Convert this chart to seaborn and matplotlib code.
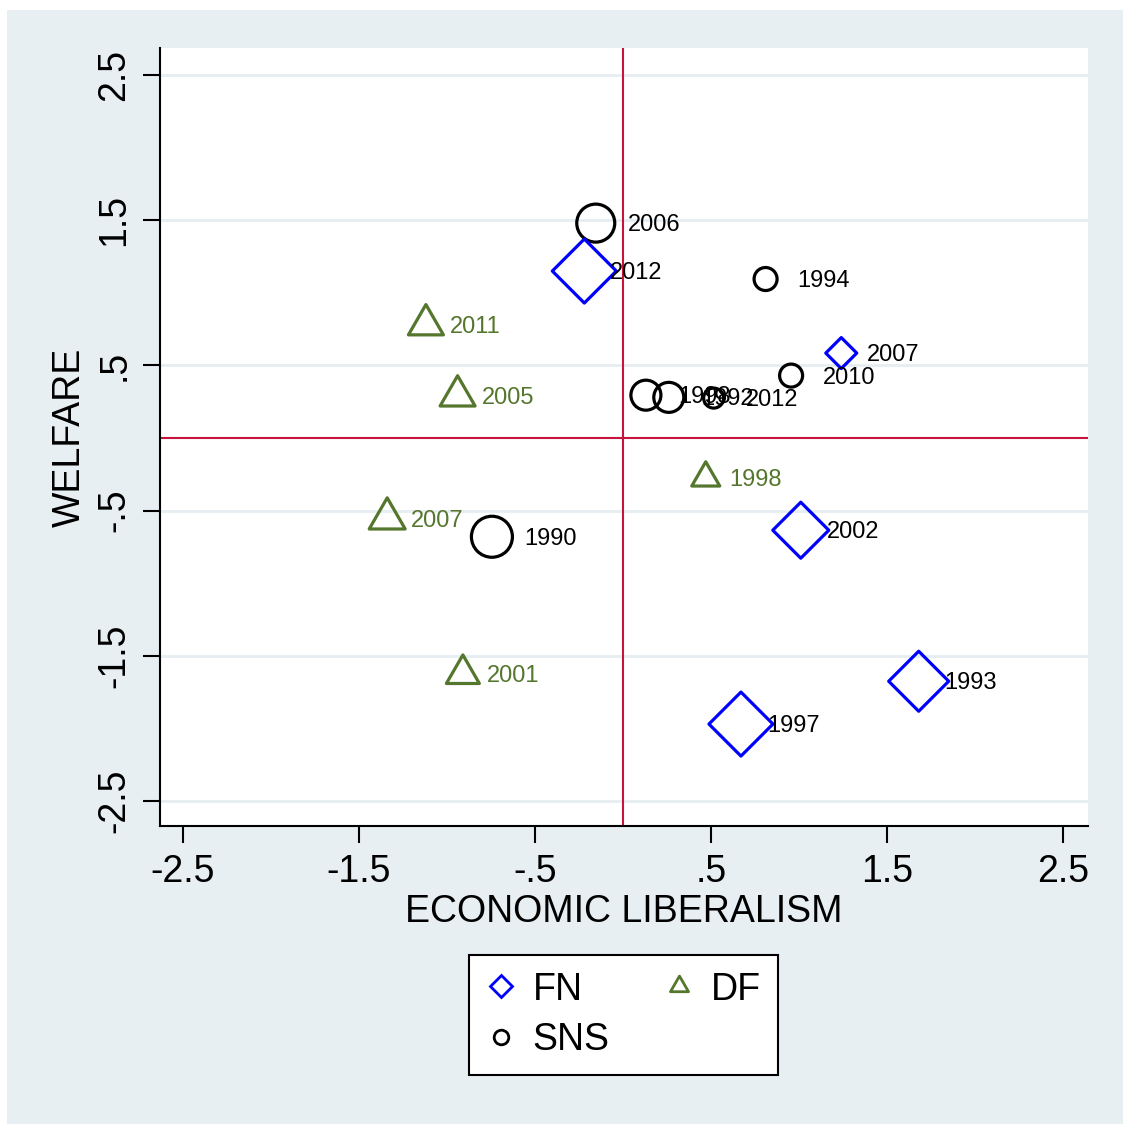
import numpy as np
import pandas as pd
import matplotlib
matplotlib.use("Agg")
import matplotlib.pyplot as plt
from matplotlib.lines import Line2D
from matplotlib.patches import Rectangle
from matplotlib.path import Path
import seaborn as sns

# --- data ------------------------------------------------------------------
fn_year = ["2012", "2007", "2002", "1993", "1997"]
fn_econ = [-0.22, 1.24, 1.01, 1.68, 0.67]
fn_welfare = [1.15, 0.585, -0.635, -1.675, -1.97]
fn_weight = [67, 34, 59, 63, 67]

df_year = ["2011", "2005", "1998", "2007", "2001"]
df_econ = [-1.12, -0.94, 0.47, -1.34, -0.91]
df_welfare = [0.78, 0.29, -0.275, -0.555, -1.625]
df_weight = [40, 40, 33, 41, 38]

sns_year = ["2006", "1994", "2010", "1998", "1992", "2012", "1990"]
sns_econ = [-0.155, 0.81, 0.955, 0.13, 0.26, 0.515, -0.745]
sns_welfare = [1.48, 1.095, 0.43, 0.295, 0.28, 0.275, -0.68]
sns_weight = [41, 26, 26, 33, 33, 23, 44]

tick_vals = [-2.5, -1.5, -0.5, 0.5, 1.5, 2.5]
tick_text = ["-2.5", "-1.5", "-.5", ".5", "1.5", "2.5"]

# --- style -----------------------------------------------------------------
sns.set_style("white")
plt.rcParams["font.family"] = ["Liberation Sans", "DejaVu Sans"]
for k in ["text.color", "axes.labelcolor", "xtick.color", "ytick.color"]:
    plt.rcParams[k] = "black"

BLUE = "#0000ff"
GREEN = "#55762d"
BLACK = "#000000"
RED = "#c8143c"
BG = "#e8eff2"
PT = 0.72  # points per pixel at dpi 100

# closed equilateral triangle marker centred on its centroid (Stata style)
tri = Path([(-1, -0.577), (1, -0.577), (0, 1.155), (0, 0)], closed=True)
TRI = 1.155  # marker size needed per unit of triangle width

fig = plt.figure(figsize=(11.23, 11.24), dpi=100, facecolor="white")
fig.patches.append(Rectangle((7 / 1123, 0), 1, 1114 / 1124, transform=fig.transFigure,
                             facecolor=BG, edgecolor="none", zorder=-10))
ax = fig.add_axes([160 / 1123, (1124 - 826) / 1124, 928 / 1123, 778 / 1124])
ax.set_facecolor("white")

ax.set_xlim(-2.631, 2.642)
ax.set_ylim(-2.672, 2.686)

for v in tick_vals:
    ax.axhline(v, color="#e6eef1", lw=2, zorder=0)
ax.axvline(0, color=RED, lw=1.5, zorder=1)
ax.axhline(0, color=RED, lw=1.5, zorder=1)

fn = pd.DataFrame({"x": fn_econ, "y": fn_welfare, "w": fn_weight, "lab": fn_year})
dfp = pd.DataFrame({"x": df_econ, "y": df_welfare, "w": df_weight, "lab": df_year})
sn = pd.DataFrame({"x": sns_econ, "y": sns_welfare, "w": sns_weight, "lab": sns_year})

sns.scatterplot(data=sn, x="x", y="y", ax=ax, marker="o",
                s=(PT * (sn["w"] - 3)) ** 2, facecolor="none",
                edgecolor=BLACK, linewidth=2.3, zorder=3)
sns.scatterplot(data=fn, x="x", y="y", ax=ax, marker="D",
                s=(PT * (fn["w"] - 3) / 1.414) ** 2, facecolor="none",
                edgecolor=BLUE, linewidth=2.3, zorder=3)
sns.scatterplot(data=dfp, x="x", y="y", ax=ax, marker=tri,
                s=(PT * (dfp["w"] - 5) * TRI) ** 2, facecolor="none",
                edgecolor=GREEN, linewidth=2.3, zorder=3)

for d, off, col in [(sn, 32, BLACK), (fn, 26, BLACK), (dfp, 24, GREEN)]:
    for _, r in d.iterrows():
        ax.annotate(r["lab"], (r["x"], r["y"]), xytext=(off * PT, -1.5),
                    textcoords="offset points", ha="left", va="center",
                    fontsize=17, color=col, zorder=4)

ax.set_xticks(tick_vals)
ax.set_xticklabels(tick_text)
ax.set_yticks(tick_vals)
ax.set_yticklabels(tick_text, rotation=90, va="center")
ax.tick_params(axis="both", direction="out", length=12, width=1.5,
               labelsize=27, pad=8, color="black", labelcolor="black",
               left=True, bottom=True)

for s in ["top", "right"]:
    ax.spines[s].set_visible(False)
for s in ["left", "bottom"]:
    ax.spines[s].set_linewidth(1.5)
    ax.spines[s].set_color("black")

ax.set_xlabel("ECONOMIC LIBERALISM", fontsize=27, color="black")
ax.set_ylabel("WELFARE", fontsize=27, color="black")
ax.xaxis.set_label_coords(0.5, -0.087)
ax.yaxis.set_label_coords(-0.078, 0.5)

handles = [
    Line2D([], [], ls="none", marker="D", mfc="none", mec=BLUE, mew=2, markersize=11.5),
    Line2D([], [], ls="none", marker="o", mfc="none", mec=BLACK, mew=2, markersize=10.5),
    Line2D([], [], ls="none", marker=tri, mfc="none", mec=GREEN, mew=2, markersize=13 * TRI),
]
leg = fig.legend(handles, ["FN", "SNS", "DF"], ncol=2, loc="center",
                 bbox_to_anchor=(623.5 / 1123, 109 / 1124), fontsize=27,
                 frameon=True, fancybox=False, edgecolor="black", framealpha=1,
                 handlelength=0.8, handletextpad=0.45, columnspacing=1.45,
                 borderpad=0.45, labelspacing=0.4)
leg.get_frame().set_linewidth(1.5)
leg.get_frame().set_facecolor("white")
for t in leg.get_texts():
    t.set_color("black")

fig.savefig("out.png", dpi=100, facecolor=fig.get_facecolor())
